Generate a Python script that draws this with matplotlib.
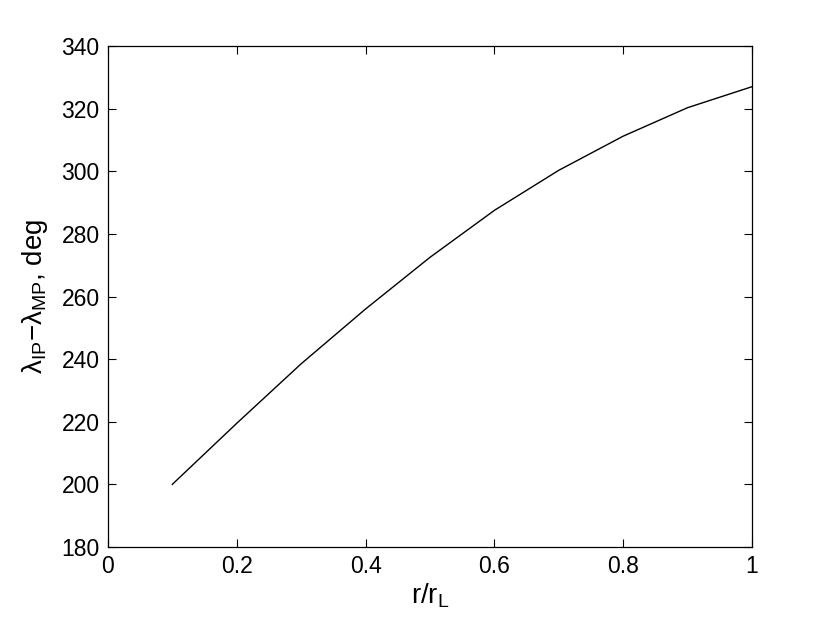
import matplotlib
matplotlib.use('Agg')
import matplotlib.pyplot as plt

# r / r_L and the longitude difference (deg)
r_ratio = [0.1, 0.2, 0.3, 0.4, 0.5, 0.6, 0.7, 0.8, 0.9, 1.0]
dlambda = [200.0, 219.5, 238.5, 256.0, 272.5, 287.5, 300.3, 311.2, 320.3, 327.0]

x_ticks = [0, 0.2, 0.4, 0.6, 0.8, 1]
x_tick_labels = ['0', '0.2', '0.4', '0.6', '0.8', '1']
y_ticks = [180, 200, 220, 240, 260, 280, 300, 320, 340]

plt.rcParams['font.family'] = ['Liberation Sans', 'DejaVu Sans']
plt.rcParams['mathtext.fontset'] = 'custom'
plt.rcParams['mathtext.rm'] = 'Liberation Sans'
plt.rcParams['mathtext.it'] = 'Liberation Sans:italic'

fig = plt.figure(figsize=(8.3, 6.25), dpi=100)
ax = fig.add_axes([0.130, 0.1248, 0.776, 0.8016])

ax.plot(r_ratio, dlambda, color='black', linewidth=1.0)

ax.set_xlim(0, 1)
ax.set_ylim(180, 340)
ax.set_xticks(x_ticks)
ax.set_xticklabels(x_tick_labels)
ax.set_yticks(y_ticks)
ax.tick_params(direction='in', length=6, width=0.8, labelsize=16.5,
               top=True, right=True, pad=6)
for sp in ax.spines.values():
    sp.set_linewidth(0.9)

ax.set_xlabel(r'$\mathrm{r/r_L}$', fontsize=20, labelpad=2)
ax.set_ylabel(r'$\mathrm{λ_{IP}{−}λ_{MP}}$, deg', fontsize=20, labelpad=8)

fig.savefig('out.png', dpi=100)
